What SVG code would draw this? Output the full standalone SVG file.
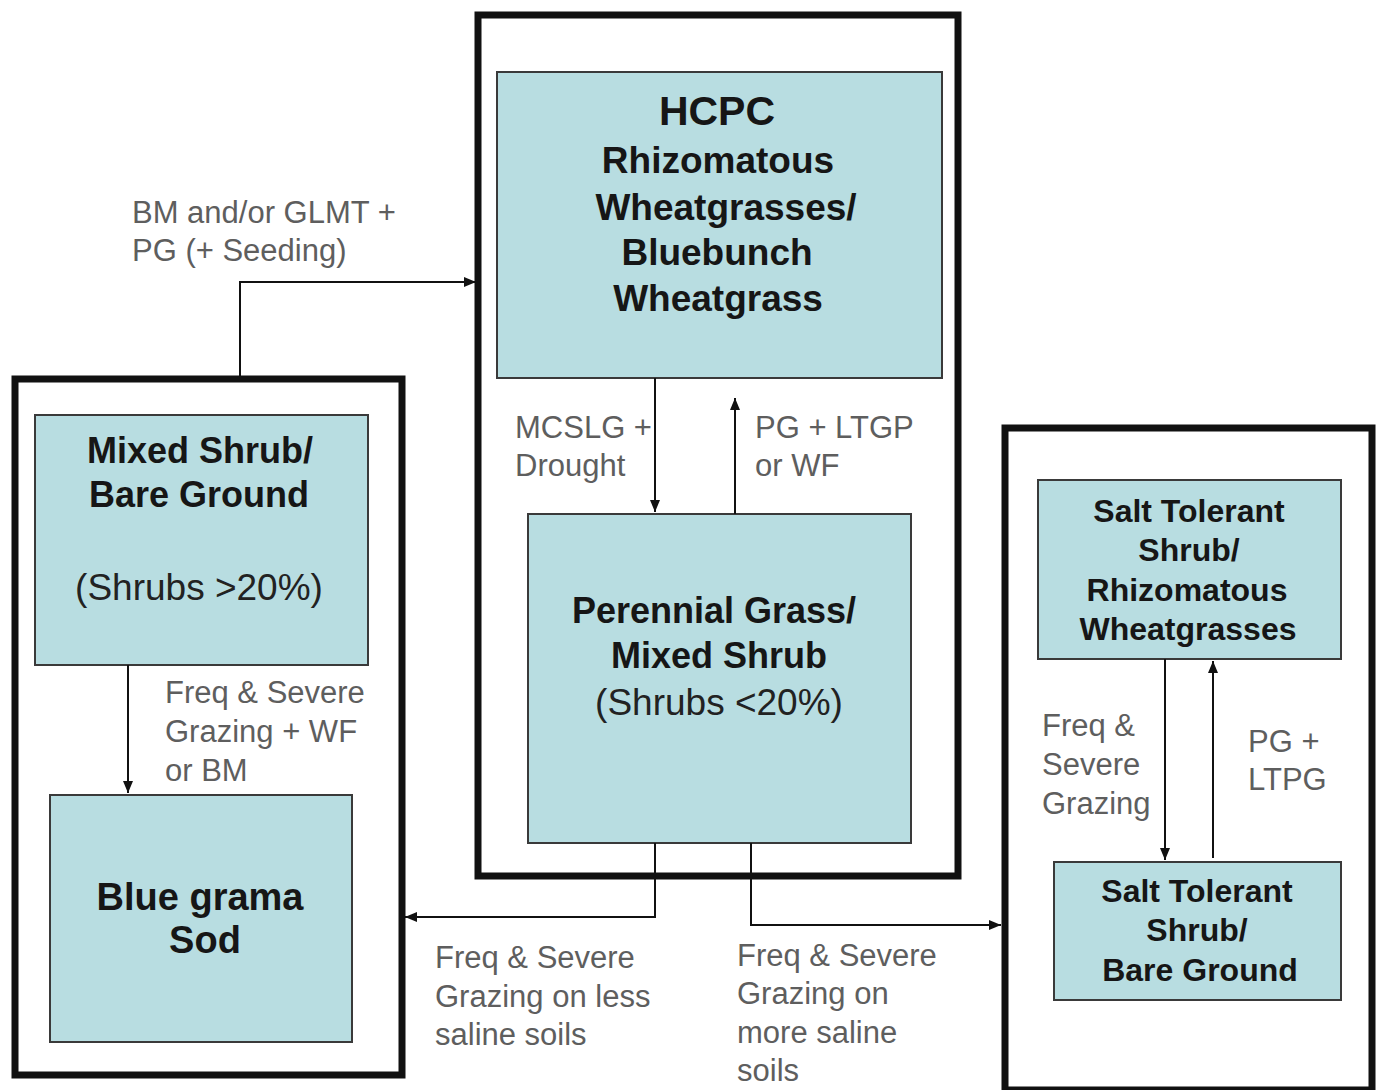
<svg xmlns="http://www.w3.org/2000/svg" width="1380" height="1090" viewBox="0 0 1380 1090">
<style>
.outer{fill:none;stroke:#111;stroke-width:7}
.box{fill:#b8dde1;stroke:#3a3a3a;stroke-width:2}
.t{font-family:"Liberation Sans",Arial,sans-serif;font-weight:bold;fill:#161616;text-anchor:middle}
.r{font-family:"Liberation Sans",Arial,sans-serif;fill:#222;text-anchor:middle}
.lbl{font-family:"Liberation Sans",Arial,sans-serif;font-size:31px;fill:#5e5e5e}
.c{fill:none;stroke:#111;stroke-width:2}
</style>
<defs>
<marker id="ah" viewBox="0 0 12 10" refX="12" refY="5" markerWidth="12" markerHeight="10" markerUnits="userSpaceOnUse" orient="auto">
<path d="M0,0 L12,5 L0,10 z" fill="#111"/>
</marker>
</defs>
<rect width="1380" height="1090" fill="#fff"/>
<g id="group-center"><rect class="outer" x="478" y="15" width="480" height="861"/></g>
<g id="group-left"><rect class="outer" x="15" y="379" width="387" height="696"/></g>
<g id="group-right"><rect class="outer" x="1005" y="428" width="367" height="662"/></g>
<g id="hcpc">
<rect class="box" x="497" y="72" width="445" height="306"/>
<text class="t" x="717" y="125" font-size="41">HCPC</text>
<text class="t" x="718" y="173" font-size="37">Rhizomatous</text>
<text class="t" x="726" y="220" font-size="37">Wheatgrasses/</text>
<text class="t" x="717" y="265" font-size="37">Bluebunch</text>
<text class="t" x="718" y="311" font-size="37">Wheatgrass</text>
</g>
<g id="perennial">
<rect class="box" x="528" y="514" width="383" height="329"/>
<text class="t" x="714" y="623" font-size="36">Perennial Grass/</text>
<text class="t" x="719" y="668" font-size="36">Mixed Shrub</text>
<text class="r" x="719" y="715" font-size="37">(Shrubs &lt;20%)</text>
</g>
<g id="mixed">
<rect class="box" x="35" y="415" width="333" height="250"/>
<text class="t" x="200" y="463" font-size="36">Mixed Shrub/</text>
<text class="t" x="199" y="507" font-size="36">Bare Ground</text>
<text class="r" x="199" y="600" font-size="37">(Shrubs &gt;20%)</text>
</g>
<g id="bluegrama">
<rect class="box" x="50" y="795" width="302" height="247"/>
<text class="t" x="200" y="910" font-size="38">Blue grama</text>
<text class="t" x="205" y="953" font-size="38">Sod</text>
</g>
<g id="salt1">
<rect class="box" x="1038" y="480" width="303" height="179"/>
<text class="t" x="1189" y="522" font-size="32">Salt Tolerant</text>
<text class="t" x="1189" y="561" font-size="32">Shrub/</text>
<text class="t" x="1187" y="601" font-size="32">Rhizomatous</text>
<text class="t" x="1188" y="640" font-size="32">Wheatgrasses</text>
</g>
<g id="salt2">
<rect class="box" x="1054" y="862" width="287" height="138"/>
<text class="t" x="1197" y="902" font-size="32">Salt Tolerant</text>
<text class="t" x="1197" y="941" font-size="32">Shrub/</text>
<text class="t" x="1200" y="981" font-size="32">Bare Ground</text>
</g>
<g id="connectors">
<path class="c" d="M240,376 V282 H476" marker-end="url(#ah)"/>
<path class="c" d="M655,378 V512" marker-end="url(#ah)"/>
<path class="c" d="M735,514 V398" marker-end="url(#ah)"/>
<path class="c" d="M128,665 V793" marker-end="url(#ah)"/>
<path class="c" d="M655,843 V917 H405" marker-end="url(#ah)"/>
<path class="c" d="M751,843 V925 H1001" marker-end="url(#ah)"/>
<path class="c" d="M1165,659 V860" marker-end="url(#ah)"/>
<path class="c" d="M1213,858 V661" marker-end="url(#ah)"/>
</g>
<g id="labels">
<text class="lbl" x="132" y="223">BM and/or GLMT +</text>
<text class="lbl" x="132" y="261">PG (+ Seeding)</text>
<text class="lbl" x="515" y="438">MCSLG +</text>
<text class="lbl" x="515" y="476">Drought</text>
<text class="lbl" x="755" y="438">PG + LTGP</text>
<text class="lbl" x="755" y="476">or WF</text>
<text class="lbl" x="165" y="703">Freq &amp; Severe</text>
<text class="lbl" x="165" y="742">Grazing + WF</text>
<text class="lbl" x="165" y="781">or BM</text>
<text class="lbl" x="435" y="968">Freq &amp; Severe</text>
<text class="lbl" x="435" y="1007">Grazing on less</text>
<text class="lbl" x="435" y="1045">saline soils</text>
<text class="lbl" x="737" y="966">Freq &amp; Severe</text>
<text class="lbl" x="737" y="1004">Grazing on</text>
<text class="lbl" x="737" y="1043">more saline</text>
<text class="lbl" x="737" y="1081">soils</text>
<text class="lbl" x="1042" y="736">Freq &amp;</text>
<text class="lbl" x="1042" y="775">Severe</text>
<text class="lbl" x="1042" y="814">Grazing</text>
<text class="lbl" x="1248" y="752">PG +</text>
<text class="lbl" x="1248" y="790">LTPG</text>
</g>
</svg>
